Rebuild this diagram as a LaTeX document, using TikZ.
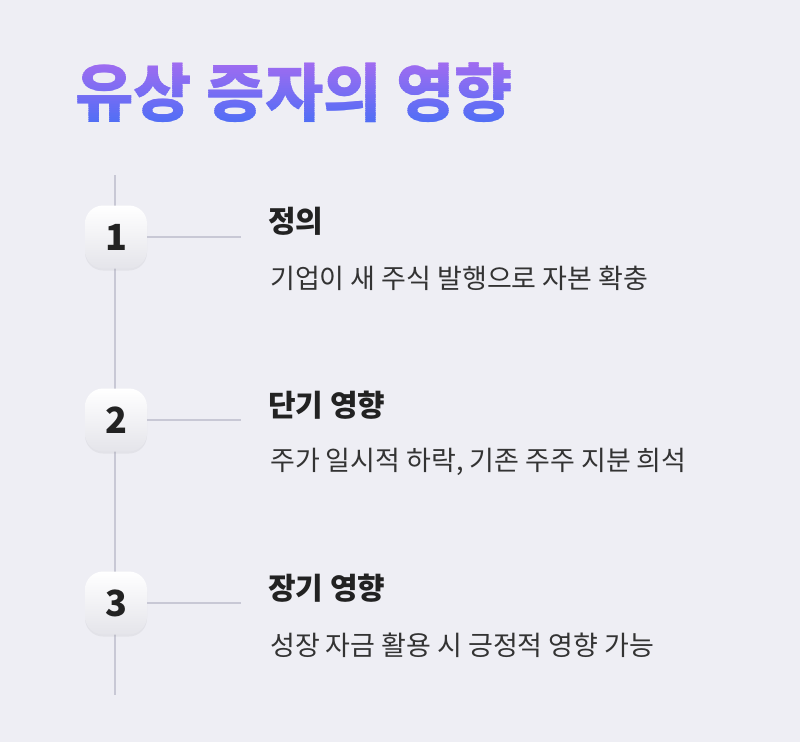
\documentclass[tikz,border=0pt]{standalone}
\usepackage{fontspec}
\setmainfont{Noto Sans CJK KR}
\usepackage{tikz}
\usetikzlibrary{shadows}

\definecolor{bg}{HTML}{EEEEF4}
\definecolor{rail}{HTML}{C8C8D5}
\definecolor{ink}{HTML}{222222}
\definecolor{bodyink}{HTML}{333333}
\definecolor{titletop}{HTML}{A66CF0}
\definecolor{titlebot}{HTML}{486EF6}

\newcommand{\titlefont}{\fontsize{63.5}{68}\selectfont\bfseries}

\begin{document}
\begin{tikzpicture}[x=1pt,y=-1pt,
    num/.style={rounded corners=18pt,minimum width=62pt,minimum height=63pt,inner sep=0pt,
      top color=white,bottom color=black!4!bg,
      drop shadow={opacity=0.10,shadow xshift=0pt,shadow yshift=-2pt},
      font=\fontsize{36}{36}\selectfont\bfseries,text=ink},
    head/.style={anchor=west,inner sep=0pt,font=\fontsize{30}{32}\selectfont\bfseries,text=ink},
    desc/.style={anchor=west,inner sep=0pt,font=\fontsize{27}{29}\selectfont,text=bodyink},
    link/.style={draw=rail,line width=2.5pt}
]
\fill[bg] (0,0) rectangle (800,742);
\useasboundingbox (0,0) rectangle (800,742);

% title, gradient from thin strips
\foreach \i in {0,...,39}{
  \pgfmathsetmacro{\pct}{\i*100/39}
  \colorlet{stripc}{titlebot!\pct!titletop}
  \begin{scope}
    \clip (60,58+\i*1.8) rectangle (560,58+\i*1.8+2.0);
    \node[anchor=west,inner sep=0pt,font=\titlefont,text=stripc] (title) at (75,93) {유상 증자의 영향};
  \end{scope}
}

% rail
\coordinate (top) at (115,175);
\coordinate (bot) at (115,695);
\draw[link,line width=2pt] (top) -- (bot);

% steps
\coordinate (e1) at (241,237);
\coordinate (e2) at (241,420);
\coordinate (e3) at (241,603);
\node[num] (n1) at (116,237) {1};
\node[num] (n2) at (116,420) {2};
\node[num] (n3) at (116,603) {3};
\draw[link] (n1.east) -- (e1);
\draw[link] (n2.east) -- (e2);
\draw[link] (n3.east) -- (e3);

\node[head] (h1) at (268,221.5) {정의};
\node[desc] (d1) at (270,278.5) {기업이 새 주식 발행으로 자본 확충};
\node[head] (h2) at (268,405) {단기 영향};
\node[desc] (d2) at (270,462) {주가 일시적 하락, 기존 주주 지분 희석};
\node[head] (h3) at (268,588) {장기 영향};
\node[desc] (d3) at (270,645) {성장 자금 활용 시 긍정적 영향 가능};
\end{tikzpicture}
\end{document}
